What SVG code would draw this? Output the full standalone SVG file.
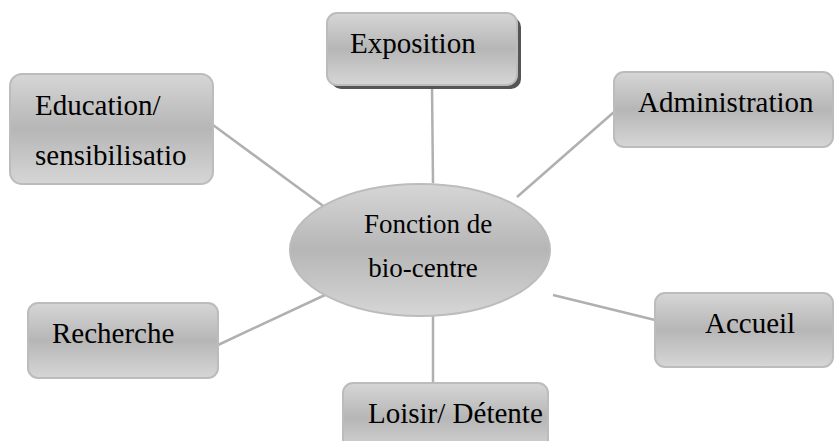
<svg xmlns="http://www.w3.org/2000/svg" width="837" height="441" viewBox="0 0 837 441">
  <defs>
    <linearGradient id="fillGrad" x1="0" y1="0" x2="0" y2="1">
      <stop offset="0" stop-color="#d6d6d6"/>
      <stop offset="0.5" stop-color="#b6b6b6"/>
      <stop offset="1" stop-color="#d6d6d6"/>
    </linearGradient>
  </defs>
  <style>
    .box { fill: url(#fillGrad); stroke: #bcbcbc; stroke-width: 2; }
    .shadow { fill: #555555; }
    text { font-family: 'Liberation Serif', 'Times New Roman', serif; fill: #000000; }
    .lbl { font-size: 29px; }
    .clbl { font-size: 27px; text-anchor: middle; }
    .conn { stroke: #b0b0b0; stroke-width: 2.5; fill: none; }
  </style>
  <rect width="837" height="441" fill="#ffffff"/>

  <!-- spokes from the central ellipse to each function box -->
  <g id="connectors">
    <line class="conn" x1="432" y1="85" x2="433" y2="183"/>
    <line class="conn" x1="213" y1="125" x2="326" y2="208"/>
    <line class="conn" x1="614" y1="112" x2="517" y2="197"/>
    <line class="conn" x1="218" y1="345" x2="325" y2="295"/>
    <line class="conn" x1="655" y1="320" x2="553" y2="295"/>
    <line class="conn" x1="433" y1="315" x2="433" y2="383"/>
  </g>

  <g id="center">
    <ellipse class="box" cx="420" cy="250" rx="130" ry="66"/>
    <text class="clbl" x="428" y="233">Fonction de</text>
    <text class="clbl" x="423" y="277">bio-centre</text>
  </g>

  <g id="exposition">
    <rect class="shadow" x="331" y="17" width="190" height="72" rx="10"/>
    <rect class="box" x="327" y="13" width="190" height="72" rx="10"/>
    <text class="lbl" x="350" y="53">Exposition</text>
  </g>

  <g id="education">
    <rect class="box" x="10" y="74" width="203" height="110" rx="12"/>
    <text class="lbl" x="35" y="115">Education/</text>
    <text class="lbl" x="35" y="165">sensibilisatio</text>
  </g>

  <g id="administration">
    <rect class="box" x="614" y="72" width="219" height="75" rx="10"/>
    <text class="lbl" x="638" y="112">Administration</text>
  </g>

  <g id="recherche">
    <rect class="box" x="28" y="303" width="190" height="75" rx="10"/>
    <text class="lbl" x="52" y="343">Recherche</text>
  </g>

  <g id="accueil">
    <rect class="box" x="655" y="293" width="178" height="74" rx="10"/>
    <text class="lbl" x="705" y="333">Accueil</text>
  </g>

  <g id="loisir">
    <rect class="box" x="343" y="383" width="205" height="70" rx="10"/>
    <text class="lbl" x="368" y="423">Loisir/ Détente</text>
  </g>
</svg>
